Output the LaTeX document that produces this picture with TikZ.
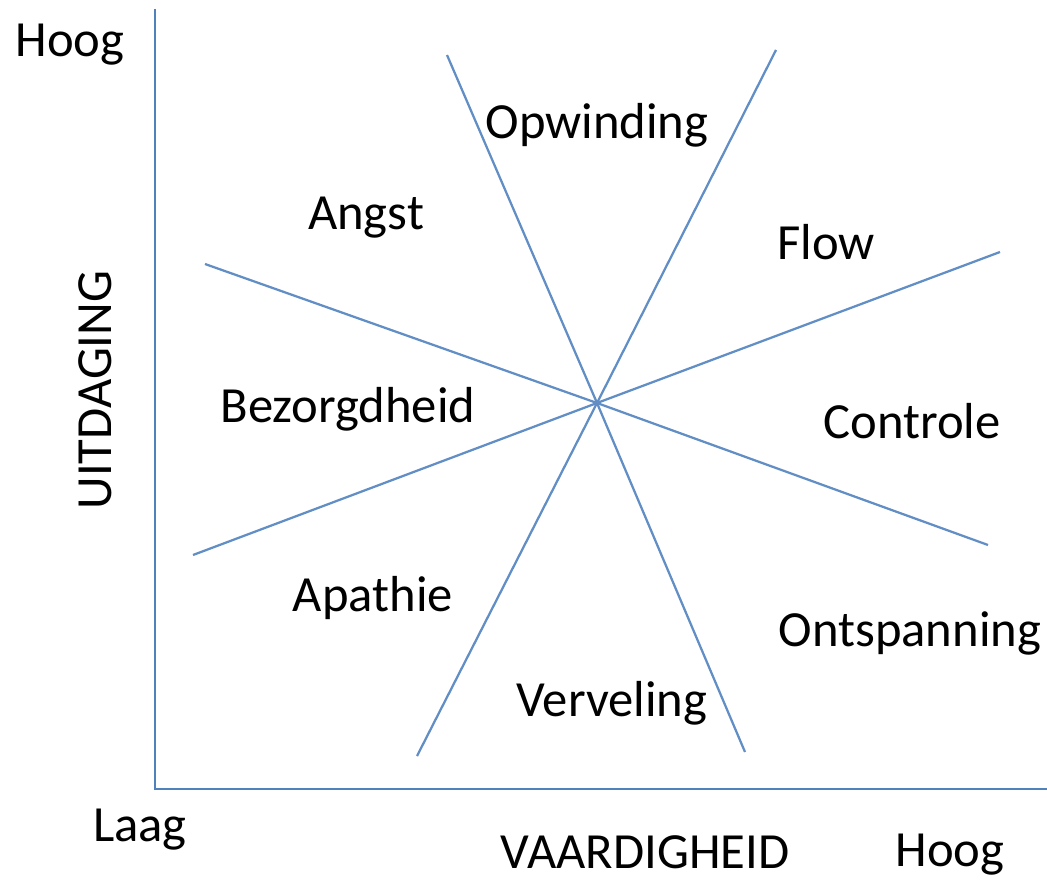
\documentclass[tikz,border=0pt]{standalone}
\usepackage{fontspec}
\setmainfont{Carlito}
\definecolor{axisblue}{RGB}{79,129,189}
\tikzset{
  axisline/.style={draw=axisblue, line width=2pt},
  zoneline/.style={draw=axisblue!90, line width=1.6pt},
  zonelabel/.style={font=\fontsize{36}{43}\selectfont, inner sep=0pt},
}
\begin{document}
\begin{tikzpicture}[x=0.025cm, y=-0.025cm]
        \useasboundingbox (0,0) rectangle (1047,880);

        % assen
        \coordinate (top) at (155,9);
        \coordinate (origin) at (155,789);
        \coordinate (right) at (1047,789);
        \draw[axisline] (top) -- (origin) -- (right);

        % lijnen door het midden
        \coordinate (c) at (597,403);
        \coordinate (a1) at (447,55);
        \coordinate (a2) at (745,752);
        \coordinate (b1) at (776,50);
        \coordinate (b2) at (417,756);
        \coordinate (d1) at (205,264);
        \coordinate (d2) at (988,545);
        \coordinate (e1) at (1000,252);
        \coordinate (e2) at (193,555);

        \draw[zoneline] (a1) -- (c) -- (a2);
        \draw[zoneline] (b1) -- (c) -- (b2);
        \draw[zoneline] (d1) -- (c) -- (d2);
        \draw[zoneline] (e1) -- (c) -- (e2);

        % zones
        \node[zonelabel] (opwinding) at (597,125) {Opwinding};
        \node[zonelabel] (angst) at (366,218) {Angst};
        \node[zonelabel] (flow) at (826,242) {Flow};
        \node[zonelabel] (bezorgdheid) at (348,409) {Bezorgdheid};
        \node[zonelabel] (controle) at (912,421) {Controle};
        \node[zonelabel] (apathie) at (373,598) {Apathie};
        \node[zonelabel] (ontspanning) at (910,633) {Ontspanning};
        \node[zonelabel] (verveling) at (612,703) {Verveling};

        % as-labels
        \node[zonelabel] (hoogy) at (70,45) {Hoog};
        \node[zonelabel] (laag) at (140,830) {Laag};
        \node[zonelabel] (vaardigheid) at (645,852) {VAARDIGHEID};
        \node[zonelabel] (hoogx) at (950,855) {Hoog};
        \node[zonelabel, rotate=90] (uitdaging) at (95,390) {UITDAGING};
\end{tikzpicture}
\end{document}
